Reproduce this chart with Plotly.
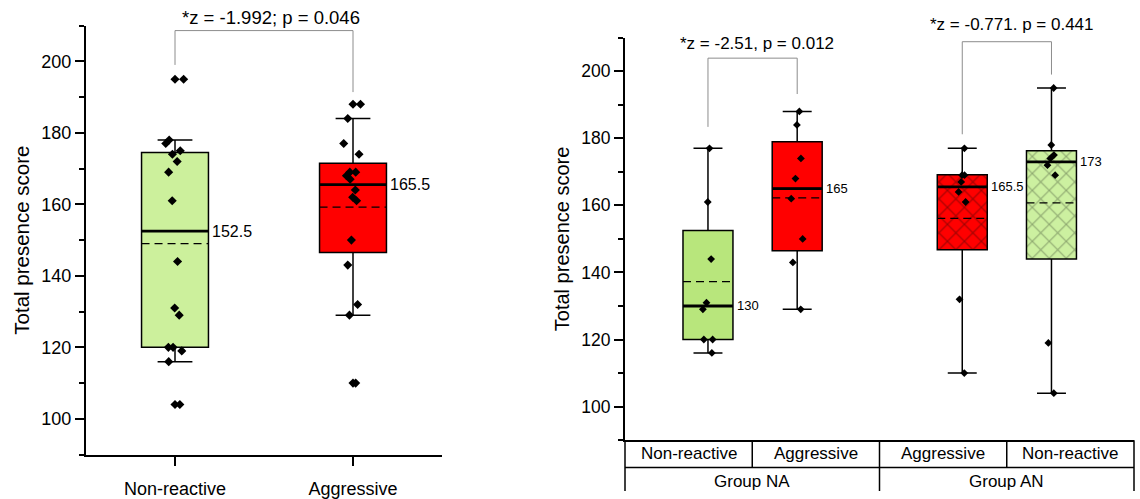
import plotly.graph_objects as go

W, H = 1140, 499

# ---------------- data ----------------
left_categories = ["Non-reactive", "Aggressive"]
left_points_nr = [195, 178, 177, 175, 174, 172, 169, 161, 144, 131, 129, 120, 120, 119, 116, 104]
left_points_ag = [188, 184, 177, 174, 169, 169, 168, 167, 164, 162, 161, 150, 143, 132, 129, 110]
left_outliers_nr = [195, 104]
left_outliers_ag = [188, 110]
left_q1 = [120, 146.5]
left_median = [152.5, 165.5]
left_q3 = [174.5, 171.5]
left_whisk_lo = [116, 129]
left_whisk_hi = [178, 184]
left_mean = [149, 159.2]
left_stat_text = "*z = -1.992; p = 0.046"

right_categories = ["Non-reactive", "Aggressive", "Aggressive", "Non-reactive"]
right_groups = ["Group NA", "Group AN"]
right_points = [
    [177, 161, 144, 131, 129, 120, 120, 116],
    [188, 184, 174, 168, 162, 150, 143, 129],
    [177, 169, 169, 167, 164, 161, 132, 110],
    [195, 178, 175, 174, 172, 169, 119, 104],
]
right_q1 = [120, 146.5, 146.8, 144]
right_median = [130, 165, 165.5, 173]
right_q3 = [152.5, 179, 169.1, 176.3]
right_whisk_lo = [116, 129, 110, 104]
right_whisk_hi = [177, 188, 177, 195]
right_mean = [137.25, 162.25, 156.1, 160.75]
right_stat_text = ["*z = -2.51, p = 0.012", "*z = -0.771. p = 0.441"]

y_ticks = [100, 120, 140, 160, 180, 200]

# ---------------- layout constants ----------------
FONT = "Arial, Liberation Sans, sans-serif"
GREEN_L = "#CCF09C"
GREEN_NA = "#B8E67C"
GREEN_AN = "#CCF0A0"
RED = "#FF0000"
left_colors = [GREEN_L, RED]
right_colors = [GREEN_NA, RED, RED, GREEN_AN]
right_hatched = [False, False, True, True]
right_hatch_fg = [None, None, "#3a0505", "#4f6040"]
right_pos = [0, 1, 2.85, 3.85]
LW = 0.376   # left box width (category units)
RW = 0.56    # right box width (data units)


def py(p):
    return 1 - p / H


fig = go.Figure()
shapes = []
annotations = []

# ---------------- left panel ----------------
for i, cat in enumerate(left_categories):
    fig.add_trace(go.Box(
        x=[cat], q1=[left_q1[i]], median=[left_median[i]], q3=[left_q3[i]],
        lowerfence=[left_whisk_lo[i]], upperfence=[left_whisk_hi[i]],
        fillcolor=left_colors[i], line=dict(color="black", width=1.5),
        whiskerwidth=0.52, width=LW, boxpoints=False,
        xaxis="x", yaxis="y", showlegend=False, hoverinfo="skip"))

for cat, pts in zip(left_categories, [left_points_nr, left_points_ag]):
    fig.add_trace(go.Box(
        x=[cat] * len(pts), y=pts, boxpoints="all", jitter=0.3, pointpos=0,
        width=LW, fillcolor="rgba(0,0,0,0)",
        line=dict(width=0, color="rgba(0,0,0,0)"), whiskerwidth=0,
        marker=dict(symbol="diamond", size=7, color="black"),
        xaxis="x", yaxis="y", showlegend=False, hoverinfo="y"))

for cat, outs in zip(left_categories, [left_outliers_nr, left_outliers_ag]):
    fig.add_trace(go.Scatter(
        x=[cat] * len(outs), y=outs, mode="markers",
        marker=dict(symbol="diamond", size=7, color="black"),
        xaxis="x", yaxis="y", showlegend=False, hoverinfo="y"))

for i in range(len(left_categories)):
    shapes.append(dict(type="line", xref="x", yref="y", x0=i - LW / 2, x1=i + LW / 2,
                       y0=left_median[i], y1=left_median[i],
                       line=dict(color="black", width=2.8)))
    shapes.append(dict(type="line", xref="x", yref="y", x0=i - LW / 2, x1=i + LW / 2,
                       y0=left_mean[i], y1=left_mean[i],
                       line=dict(color="black", width=1.3, dash="8px,5px")))
    annotations.append(dict(x=i + LW / 2, y=left_median[i], xref="x", yref="y",
                            text=f"{left_median[i]:g}", showarrow=False,
                            xanchor="left", yanchor="middle", xshift=2,
                            font=dict(size=16, color="black", family=FONT)))

# significance bracket (left)
BR_GRAY = "#8c8c8c"
lb = dict(x0=0, x1=1, ya=199, yb=191.4, top=208.6)
shapes += [
    dict(type="line", xref="x", yref="y", x0=lb["x0"], x1=lb["x0"], y0=lb["ya"], y1=lb["top"], line=dict(color=BR_GRAY, width=1)),
    dict(type="line", xref="x", yref="y", x0=lb["x0"], x1=lb["x1"], y0=lb["top"], y1=lb["top"], line=dict(color=BR_GRAY, width=1)),
    dict(type="line", xref="x", yref="y", x0=lb["x1"], x1=lb["x1"], y0=lb["top"], y1=lb["yb"], line=dict(color=BR_GRAY, width=1)),
]
annotations.append(dict(x=0.5, y=py(18), xref="x", yref="paper", text=left_stat_text,
                        showarrow=False, xshift=7, xanchor="center", yanchor="middle",
                        font=dict(size=18.5, color="black", family=FONT)))

# ---------------- right panel ----------------
for i, pos in enumerate(right_pos):
    if right_hatched[i]:
        fig.add_trace(go.Bar(
            x=[pos], y=[right_q3[i] - right_q1[i]], base=[right_q1[i]], width=RW,
            marker=dict(color=right_colors[i], line=dict(width=0),
                        pattern=dict(shape="x", fgcolor=right_hatch_fg[i], size=12, solidity=0.18)),
            xaxis="x2", yaxis="y2", showlegend=False, hoverinfo="skip"))
    fig.add_trace(go.Box(
        x=[pos], q1=[right_q1[i]], median=[right_median[i]], q3=[right_q3[i]],
        lowerfence=[right_whisk_lo[i]], upperfence=[right_whisk_hi[i]],
        fillcolor="rgba(0,0,0,0)" if right_hatched[i] else right_colors[i],
        line=dict(color="black", width=1.5),
        whiskerwidth=0.58, width=RW, boxpoints=False,
        xaxis="x2", yaxis="y2", showlegend=False, hoverinfo="skip"))

for i, pos in enumerate(right_pos):
    pts = right_points[i]
    fig.add_trace(go.Box(
        x=[pos] * len(pts), y=pts, boxpoints="all", jitter=0.3, pointpos=0,
        width=RW, fillcolor="rgba(0,0,0,0)",
        line=dict(width=0, color="rgba(0,0,0,0)"), whiskerwidth=0,
        marker=dict(symbol="diamond", size=6, color="black"),
        xaxis="x2", yaxis="y2", showlegend=False, hoverinfo="y"))

for i, pos in enumerate(right_pos):
    shapes.append(dict(type="line", xref="x2", yref="y2", x0=pos - RW / 2, x1=pos + RW / 2,
                       y0=right_median[i], y1=right_median[i],
                       line=dict(color="black", width=2.8)))
    shapes.append(dict(type="line", xref="x2", yref="y2", x0=pos - RW / 2, x1=pos + RW / 2,
                       y0=right_mean[i], y1=right_mean[i],
                       line=dict(color="black", width=1.3, dash="8px,5px")))
    annotations.append(dict(x=pos + RW / 2, y=right_median[i], xref="x2", yref="y2",
                            text=f"{right_median[i]:g}", showarrow=False,
                            xanchor="left", yanchor="middle", xshift=2,
                            font=dict(size=13, color="black", family=FONT)))

# significance brackets (right)
right_brackets = [
    dict(x0=right_pos[0], x1=right_pos[1], ya=183.4, yb=193.2, top=203.9, ty=44.3, xs=4),
    dict(x0=right_pos[2], x1=right_pos[3], ya=181.2, yb=199.0, top=208.8, ty=25.0, xs=5),
]
for b, txt in zip(right_brackets, right_stat_text):
    shapes += [
        dict(type="line", xref="x2", yref="y2", x0=b["x0"], x1=b["x0"], y0=b["ya"], y1=b["top"], line=dict(color=BR_GRAY, width=1)),
        dict(type="line", xref="x2", yref="y2", x0=b["x0"], x1=b["x1"], y0=b["top"], y1=b["top"], line=dict(color=BR_GRAY, width=1)),
        dict(type="line", xref="x2", yref="y2", x0=b["x1"], x1=b["x1"], y0=b["top"], y1=b["yb"], line=dict(color=BR_GRAY, width=1)),
    ]
    annotations.append(dict(x=(b["x0"] + b["x1"]) / 2, y=py(b["ty"]), xref="x2", yref="paper", text=txt,
                            showarrow=False, xshift=b["xs"], xanchor="center", yanchor="middle",
                            font=dict(size=17, color="black", family=FONT)))

# table under right panel
tbl_top = py(447.3)
tbl_mid = py(475)
tbl_bot = 0
TL = dict(color="black", width=1.5)
for xv, y0 in [(0, tbl_bot), (0.25, tbl_mid), (0.5, tbl_bot), (0.75, tbl_mid), (1, tbl_bot)]:
    shapes.append(dict(type="line", xref="x2 domain", yref="paper", x0=xv, x1=xv,
                       y0=y0, y1=tbl_top, line=TL))
shapes.append(dict(type="line", xref="x2 domain", yref="paper", x0=0, x1=1,
                   y0=tbl_mid, y1=tbl_mid, line=TL))
for k, cat in enumerate(right_categories):
    annotations.append(dict(x=0.125 + 0.25 * k, y=(tbl_top + tbl_mid) / 2, xref="x2 domain", yref="paper",
                            text=cat, showarrow=False, xanchor="center", yanchor="middle",
                            font=dict(size=17, color="black", family=FONT)))
for k, g in enumerate(right_groups):
    annotations.append(dict(x=0.25 + 0.5 * k, y=py(489), xref="x2 domain", yref="paper",
                            text=g, showarrow=False, xanchor="center", yanchor="middle",
                            font=dict(size=17, color="black", family=FONT)))

# ---------------- axes ----------------
yax_common = dict(
    range=[90, 210], tickvals=y_ticks, showgrid=False, zeroline=False,
    showline=True, linecolor="black", linewidth=2, ticks="outside",
    ticklen=9, tickwidth=1.5, tickcolor="black",
    minor=dict(dtick=10, ticks="outside", ticklen=5, tickwidth=1.5, tickcolor="black"),
)

fig.update_layout(
    width=W, height=H,
    margin=dict(l=0, r=0, t=0, b=0),
    paper_bgcolor="white", plot_bgcolor="white",
    barmode="overlay", boxmode="overlay",
    showlegend=False,
    font=dict(family=FONT, color="black"),
    xaxis=dict(domain=[86 / W, 442 / W], anchor="y", type="category",
               categoryorder="array", categoryarray=left_categories,
               range=[-0.5, 1.5], showline=True, linecolor="black", linewidth=2,
               ticks="outside", ticklen=9, tickwidth=1.5, tickcolor="black",
               ticklabelstandoff=8,
               tickfont=dict(size=18, family=FONT, color="black"),
               showgrid=False, zeroline=False, fixedrange=True),
    yaxis=dict(domain=[py(462), py(26)], anchor="x",
               tickfont=dict(size=18, family=FONT, color="black"),
               title=dict(text="Total presence score", standoff=6,
                          font=dict(size=20.5, family=FONT, color="black")),
               **yax_common),
    xaxis2=dict(domain=[625 / W, 1134 / W], anchor="y2",
                range=[-0.930, 4.775], showticklabels=False, ticks="",
                showline=True, linecolor="black", linewidth=1.5,
                showgrid=False, zeroline=False, fixedrange=True),
    yaxis2=dict(domain=[py(447.3), py(38.3)], anchor="x2",
                tickfont=dict(size=17.5, family=FONT, color="black"),
                title=dict(text="Total presence score", standoff=6,
                           font=dict(size=20, family=FONT, color="black")),
                **yax_common),
    shapes=shapes,
    annotations=annotations,
)

fig.write_html("out.html", config={"displayModeBar": False},
               post_script="document.body.style.margin='0px';")
